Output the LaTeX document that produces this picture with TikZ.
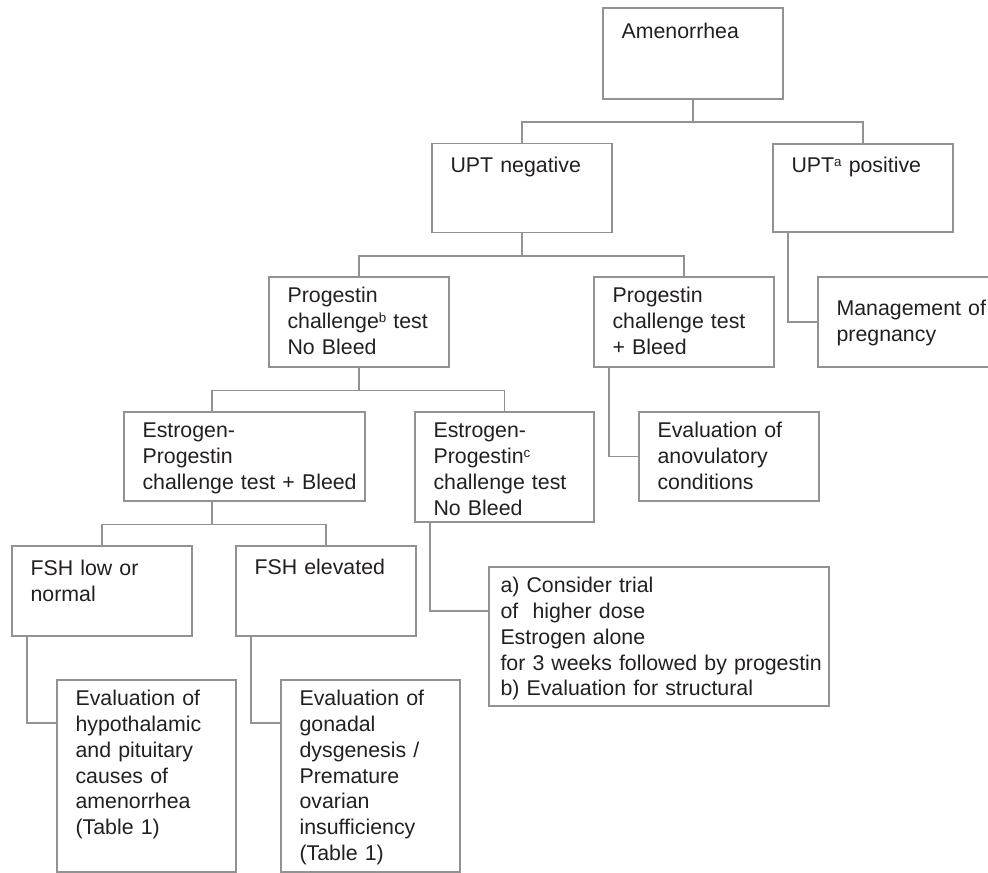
\documentclass[tikz,border=0pt]{standalone}
\usepackage{fontspec}
\setmainfont{Liberation Sans}
\usetikzlibrary{calc}

\definecolor{linegray}{RGB}{146,146,146}
\definecolor{inkgray}{RGB}{35,31,32}

\newcommand{\fnmark}[1]{\raisebox{0.55ex}{\fontsize{10}{10}\selectfont #1}}

\tikzset{
    box/.style={draw=linegray, line width=1.35pt, anchor=north west,
        inner xsep=14pt, inner ysep=0pt, align=left, text=inkgray,
        text width=107pt, text height=19.5pt,
        font=\fontsize{16}{19.3}\selectfont},
    link/.style={linegray, line width=1.35pt},
}

\begin{document}
\begin{tikzpicture}[x=0.75pt, y=-0.75pt]
        \useasboundingbox (0,0) rectangle (988,872);
        % boxes, top left corners
        \node[box, text height=23.25pt, text depth=45pt]    (amen)  at (602,7)     {Amenorrhea};
        \node[box, text height=21.75pt, text depth=45pt]    (neg)   at (431,142.5) {UPT negative};
        \node[box, text height=21.75pt, text depth=44.25pt] (pos)   at (772,143)   {UPT\fnmark{a} positive};
        \node[box, text width=140pt, text height=29.25pt, text depth=38.25pt] (preg) at (817,276) {Management of\\pregnancy};
        \node[box, text depth=48.2pt]  (pnb)   at (268,276) {Progestin\\challenge\fnmark{b} test\\No Bleed};
        \node[box, text depth=48.2pt]  (pb)    at (593,276) {Progestin\\challenge test\\+ Bleed};
        \node[box, text width=152.75pt, text depth=47.45pt] (epb) at (123,411) {Estrogen-\\Progestin\\\mbox{challenge test + Bleed}};
        \node[box, text width=106.25pt, text depth=63.2pt] (epnb) at (414,411) {Estrogen-\\Progestin\fnmark{c}\\challenge test\\No Bleed};
        \node[box, text depth=47.25pt] (anov)  at (638,411) {Evaluation of\\anovulatory\\conditions};
        \node[box, text height=22.5pt, text depth=45pt]     (fshlo) at (11,545)  {FSH low or\\normal};
        \node[box, text height=21.75pt, text depth=45.75pt] (fshhi) at (235,545) {FSH elevated};
        \node[box, inner xsep=8.7pt, text width=237.6pt, text depth=84.75pt] (trial) at (488,566)
            {a) Consider trial\\of\ \ higher dose\\Estrogen alone\\\mbox{for 3 weeks followed by progestin}\\b) Evaluation for structural};
        \node[box, text width=106.25pt, text depth=124.5pt] (hypo)  at (56,679)
            {Evaluation of\\hypothalamic\\and pituitary\\causes of\\amenorrhea\\(Table 1)};
        \node[box, text width=106.25pt, text depth=124.5pt] (gonad) at (280,679)
            {Evaluation of\\gonadal\\dysgenesis /\\Premature\\ovarian\\insufficiency\\(Table 1)};

        % branch points off centre
        \coordinate (epbtop) at ($(epb.north west)+(89,0)$);
        \coordinate (epbbot) at ($(epb.south west)+(89,0)$);

        % forks
        \draw[link] (amen.south) -- ++(0,22) -| (neg.north);
        \draw[link] (amen.south) ++(0,22) -| (pos.north);
        \draw[link] (neg.south) -- ++(0,22.5) -| (pnb.north);
        \draw[link] (neg.south) ++(0,22.5) -| (pb.north);
        \draw[link] (pnb.south) -- ++(0,22.5) -| (epbtop);
        \draw[link] (pnb.south) ++(0,22.5) -| (epnb.north);
        \draw[link] (epbbot) -- ++(0,22.5) -| (fshlo.north);
        \draw[link] (epbbot) ++(0,22.5) -| (fshhi.north);

        % elbows
        \draw[link] ($(pos.south west)+(16,0)$) |- (preg.west);
        \draw[link] ($(pb.south west)+(16,0)$) |- (anov.west);
        \draw[link] ($(epnb.south west)+(16,0)$) |- ($(trial.north west)+(0,45)$);
        \draw[link] ($(fshlo.south west)+(16,0)$) |- ($(hypo.north west)+(0,44)$);
        \draw[link] ($(fshhi.south west)+(16,0)$) |- ($(gonad.north west)+(0,44)$);
    \end{tikzpicture}
\end{document}
